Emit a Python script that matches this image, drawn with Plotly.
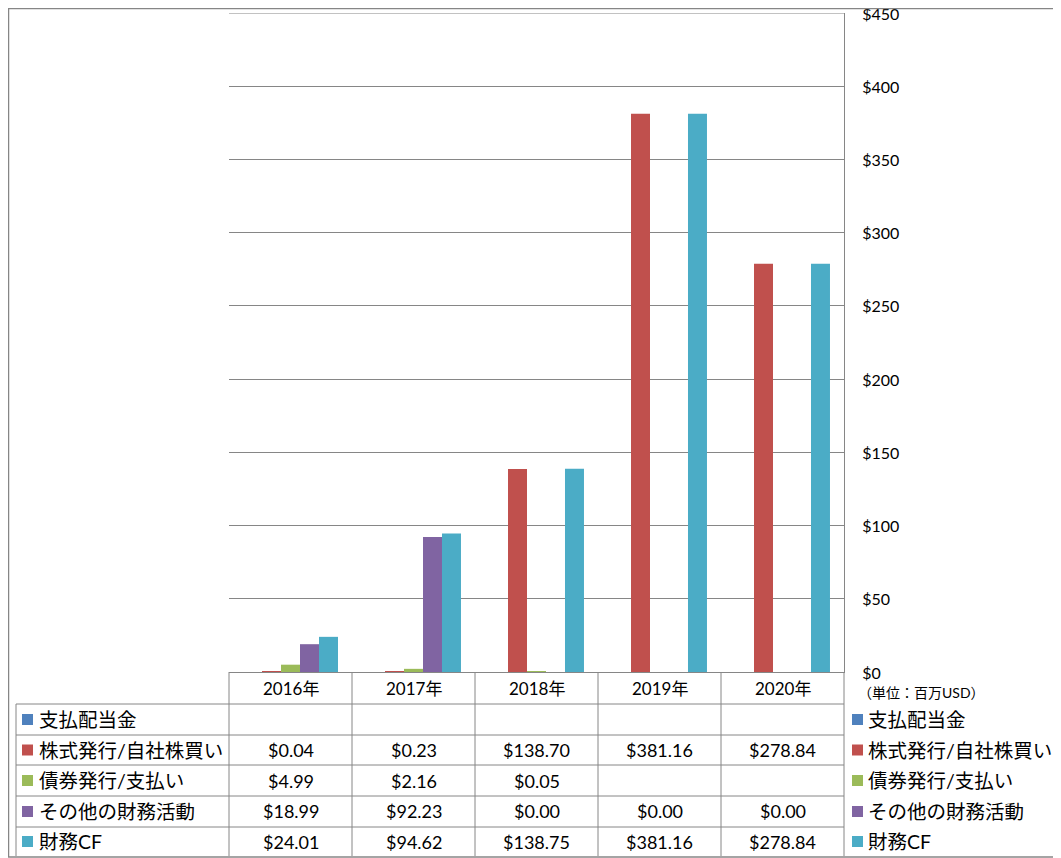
import plotly.graph_objects as go

# データ（単位: 百万USD）
years = ["2016年", "2017年", "2018年", "2019年", "2020年"]
series_names = ["支払配当金", "株式発行/自社株買い", "債券発行/支払い", "その他の財務活動", "財務CF"]
dividends = [None, None, None, None, None]
stock = [0.04, 0.23, 138.70, 381.16, 278.84]
bonds = [4.99, 2.16, 0.05, None, None]
other = [18.99, 92.23, 0.00, 0.00, 0.00]
fin_cf = [24.01, 94.62, 138.75, 381.16, 278.84]
y_ticks = [0, 50, 100, 150, 200, 250, 300, 350, 400, 450]

series_values = [dividends, stock, bonds, other, fin_cf]
colors = ["#4F81BD", "#C0504D", "#9BBB59", "#8064A2", "#4BACC6"]

# the page body adds 8px, so the figure is drawn 8px right/down of the screen origin
OFF = 8
W, H = 1061 - OFF, 858 - OFF
L, R, T, B = 229, 844, 13, 672   # plot area in screen pixels
grid = "#868686"
jp = "Lato, 'Noto Sans CJK JP'"


def px(x):
    return (x - L) / (R - L)


def py(y):
    return (B - y) / (B - T)


fig = go.Figure()
for name, vals, c in zip(series_names, series_values, colors):
    fig.add_trace(go.Bar(x=years, y=vals, name=name, marker=dict(color=c, line=dict(width=0)),
                         showlegend=False))

shapes = []
annotations = []

# data table geometry (screen pixels)
row_edges = [704, 735, 765, 796, 827, 856]
col_w = (R - L) / len(years)
col_edges = [L + i * col_w for i in range(len(years) + 1)]


def line(x0, y0, x1, y1, color=grid, width=1):
    shapes.append(dict(type="line", xref="paper", yref="paper", x0=px(x0), y0=py(y0),
                       x1=px(x1), y1=py(y1), line=dict(color=color, width=width)))


def text(x, y, s, size, anchor="center"):
    annotations.append(dict(x=px(x), y=py(y), text=s, xref="paper", yref="paper",
                            showarrow=False, xanchor=anchor, yanchor="middle",
                            font=dict(family=jp, size=size, color="#000")))


# top gridline (plotly drops the one on the range edge)
shapes.append(dict(type="line", xref="paper", yref="y", x0=0, x1=1, y0=y_ticks[-1], y1=y_ticks[-1],
                   line=dict(color=grid, width=1)))

# header row
for i, yr in enumerate(years):
    text(col_edges[i] + col_w / 2, (B + row_edges[0]) / 2, yr, 17)
for xe in col_edges:
    line(xe, B, xe, row_edges[-1])
line(16, row_edges[0], 16, row_edges[-1])
for ye in row_edges[:-1]:
    line(16, ye, R, ye)

# table rows + right-hand legend
for r, (name, vals, c) in enumerate(zip(series_names, series_values, colors)):
    yc = (row_edges[r] + row_edges[r + 1]) / 2
    for kx, tx in [(22, 37), (852, 866)]:
        shapes.append(dict(type="rect", xref="paper", yref="paper", x0=px(kx), x1=px(kx + 11),
                           y0=py(yc + 5.5), y1=py(yc - 5.5), fillcolor=c, line=dict(width=0)))
        text(tx, yc, name, 19.5, "left")
    for i, v in enumerate(vals):
        if v is None:
            continue
        text(col_edges[i] + col_w / 2, yc, f"${v:,.2f}", 18)

text(856, 692, "（単位：百万USD）", 14, "left")

# outer frame
shapes.append(dict(type="rect", xref="paper", yref="paper", x0=px(OFF + 0.5), x1=px(1060),
                   y0=py(857), y1=py(OFF + 0.5), line=dict(color=grid, width=1.5)))

fig.update_layout(
    width=W, height=H,
    margin=dict(l=L - OFF, r=1061 - R, t=T - OFF, b=858 - B, autoexpand=False),
    paper_bgcolor="white", plot_bgcolor="white",
    barmode="group", bargap=0.228, bargroupgap=0,
    shapes=shapes, annotations=annotations,
    xaxis=dict(showticklabels=False, showgrid=False, zeroline=False, automargin=False,
               showline=True, linecolor=grid, linewidth=1),
    yaxis=dict(side="right", range=[0, 450], tickvals=y_ticks, automargin=False,
               ticktext=[f"${v}" for v in y_ticks], showgrid=True, gridcolor=grid, gridwidth=1,
               zeroline=False, showline=True, linecolor=grid, linewidth=1, ticks="",
               ticklabeloverflow="allow", ticklabelstandoff=14, ticklabelshift=1,
               tickfont=dict(family=jp, size=16, color="#000")),
)

fig.write_html("out.html")
